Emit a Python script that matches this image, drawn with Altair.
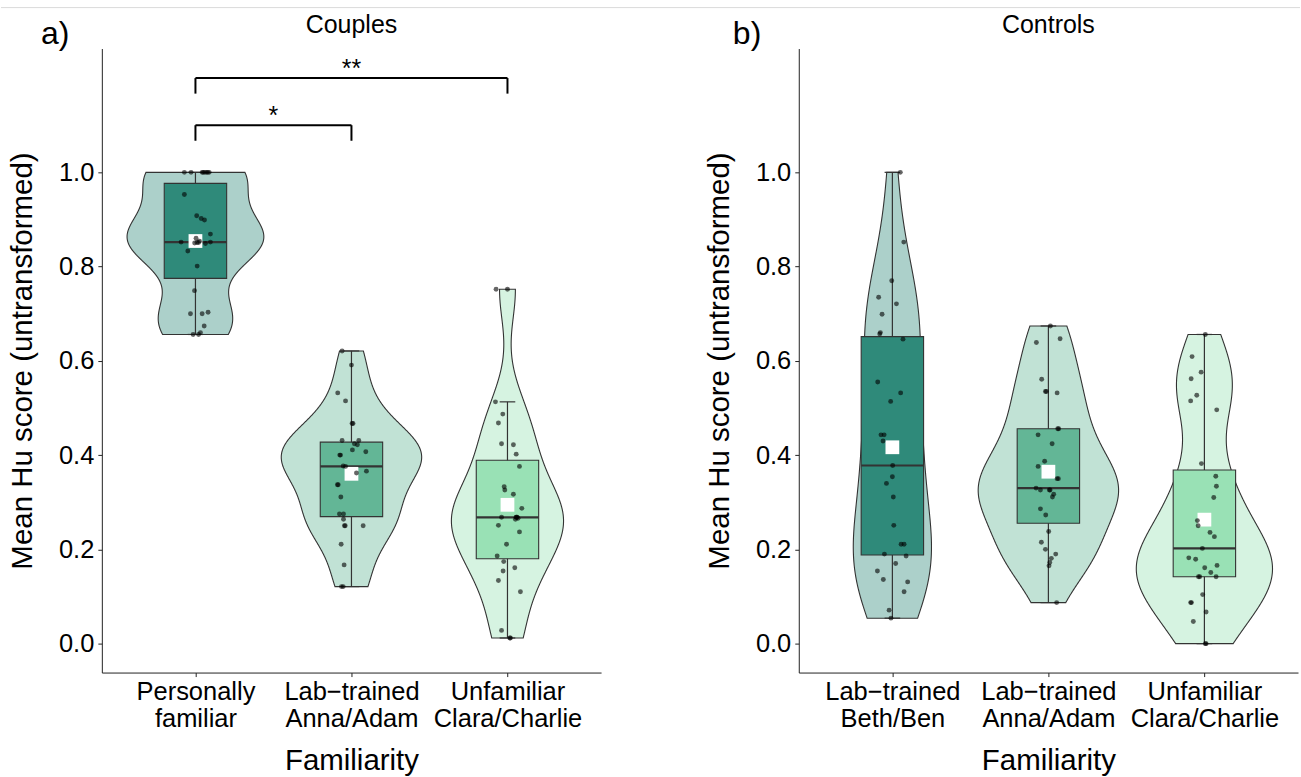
import json

import altair as alt
import numpy as np
import pandas as pd

FONT = "Liberation Sans"

# ---------------------------------------------------------------------------
# Mean Hu scores (untransformed), one value per participant, with the
# horizontal jitter offsets of the plotted dots (in category units).
# ---------------------------------------------------------------------------
couples_personal = [1.0, 1.0, 1.0, 1.0, 1.0, 1.0, 1.0, 1.0, 0.953, 0.908, 0.902,
                    0.899, 0.869, 0.860, 0.854, 0.852, 0.852, 0.851, 0.851, 0.850,
                    0.849, 0.833, 0.801, 0.749, 0.703, 0.700, 0.700, 0.674, 0.660,
                    0.656, 0.656]
couples_personal_jit = [-0.071, -0.028, 0.043, 0.071, 0.088, 0.060, 0.079, 0.050,
                        -0.071, 0.008, 0.037, 0.058, 0.096, 0.004, 0.026, -0.092,
                        0.096, 0.010, 0.020, -0.005, 0.064, -0.049, 0.011, -0.006,
                        0.081, -0.032, 0.043, 0.056, 0.032, -0.015, 0.020]

couples_anna = [0.621, 0.591, 0.532, 0.515, 0.467, 0.467, 0.431, 0.431, 0.424, 0.422,
                0.411, 0.407, 0.400, 0.400, 0.377, 0.376, 0.366, 0.362, 0.337, 0.337,
                0.311, 0.275, 0.275, 0.264, 0.250, 0.250, 0.250, 0.211, 0.167, 0.121,
                0.121]
couples_anna_jit = [-0.060, 0.000, -0.088, -0.038, 0.004, 0.010, -0.060, 0.047, 0.019,
                    0.038, 0.006, 0.092, -0.075, -0.070, -0.053, -0.038, 0.096, 0.032,
                    -0.090, -0.085, -0.068, -0.077, -0.051, -0.051, -0.045, 0.075,
                    -0.040, -0.066, -0.047, -0.064, -0.053]

couples_clara = [0.752, 0.752, 0.513, 0.487, 0.468, 0.424, 0.422, 0.402, 0.376, 0.333,
                 0.326, 0.317, 0.287, 0.268, 0.268, 0.268, 0.268, 0.266, 0.264, 0.251,
                 0.237, 0.211, 0.186, 0.174, 0.161, 0.154, 0.134, 0.110, 0.028, 0.012,
                 0.012]
couples_clara_jit = [-0.073, 0.000, -0.077, -0.030, -0.058, -0.038, 0.038, 0.056, 0.077,
                     -0.021, -0.017, 0.038, 0.092, -0.038, 0.062, 0.058, 0.055, 0.068,
                     0.051, -0.058, 0.077, -0.006, -0.066, -0.024, 0.047, -0.028,
                     -0.058, 0.083, -0.038, 0.019, 0.015]

controls_beth = [1.0, 0.852, 0.770, 0.735, 0.721, 0.699, 0.660, 0.657, 0.646, 0.555,
                 0.532, 0.514, 0.443, 0.443, 0.430, 0.378, 0.354, 0.340, 0.311, 0.251,
                 0.211, 0.211, 0.190, 0.186, 0.170, 0.154, 0.136, 0.131, 0.110, 0.071,
                 0.054]
controls_beth_jit = [0.051, 0.073, -0.004, -0.088, 0.026, -0.066, -0.077, -0.081, 0.068,
                     -0.094, 0.053, -0.011, -0.073, -0.053, -0.060, 0.002, 0.000,
                     -0.038, 0.006, 0.009, 0.056, 0.075, -0.051, 0.088, 0.021, -0.096,
                     -0.058, 0.098, 0.075, -0.021, -0.009]

controls_anna = [0.674, 0.647, 0.639, 0.561, 0.535, 0.535, 0.532, 0.456, 0.456, 0.443,
                 0.424, 0.387, 0.376, 0.350, 0.350, 0.330, 0.326, 0.326, 0.326, 0.317,
                 0.311, 0.286, 0.273, 0.238, 0.215, 0.200, 0.190, 0.181, 0.172, 0.165,
                 0.087]
controls_anna_jit = [0.013, 0.075, -0.077, -0.043, -0.019, -0.013, 0.056, 0.066, 0.060,
                     -0.066, 0.024, -0.024, -0.066, 0.056, 0.064, -0.079, -0.051, 0.006,
                     0.011, 0.034, 0.026, -0.051, -0.017, 0.002, -0.045, -0.019, 0.047,
                     0.019, 0.009, 0.004, 0.053]

controls_clara = [0.656, 0.609, 0.576, 0.562, 0.527, 0.515, 0.496, 0.382, 0.355, 0.334,
                  0.310, 0.261, 0.250, 0.236, 0.227, 0.202, 0.182, 0.179, 0.166, 0.161,
                  0.151, 0.142, 0.142, 0.142, 0.104, 0.087, 0.087, 0.067, 0.047, 0.0,
                  0.0]
controls_clara_jit = [0.006, -0.079, -0.021, -0.085, -0.049, -0.088, 0.079, -0.019,
                      0.073, 0.077, 0.060, -0.045, -0.040, 0.036, 0.064, -0.013, -0.100,
                      -0.056, 0.081, 0.002, 0.041, -0.038, -0.030, 0.075, -0.011,
                      -0.088, -0.083, 0.011, -0.071, 0.006, 0.011]

couples_labels = [["Personally", "familiar"], ["Lab−trained", "Anna/Adam"],
                  ["Unfamiliar", "Clara/Charlie"]]
controls_labels = [["Lab−trained", "Beth/Ben"], ["Lab−trained", "Anna/Adam"],
                   ["Unfamiliar", "Clara/Charlie"]]

# significance brackets (Couples): from category, to category, height, stars
bracket_from = [1, 1]
bracket_to = [2, 3]
bracket_height = [1.10, 1.20]
bracket_stars = ["*", "**"]
TIP = 0.033

fill_colors = ["#2f8a7a", "#63b696", "#99e1b5"]

Y_DOMAIN = [-0.0614, 1.2627]
X_DOMAIN = [0.4, 3.6]


# ---------------------------------------------------------------------------
# statistics
# ---------------------------------------------------------------------------
def bw_nrd0(v):
    sd = np.std(v, ddof=1)
    q75, q25 = np.percentile(v, [75, 25])
    lo = min(sd, (q75 - q25) / 1.34)
    if lo <= 0:
        lo = sd
    return 0.9 * lo * len(v) ** -0.2


def density(v, grid):
    bw = bw_nrd0(v)
    z = (grid[:, None] - v[None, :]) / bw
    return np.exp(-0.5 * z ** 2).sum(axis=1) / (len(v) * bw * np.sqrt(2 * np.pi))


def violin_frame(groups):
    parts = []
    for pos, vals in enumerate(groups, start=1):
        v = np.asarray(vals, dtype=float)
        grid = np.linspace(v.min(), v.max(), 512)
        parts.append(pd.DataFrame({"pos": pos, "y": grid, "d": density(v, grid)}))
    df = pd.concat(parts, ignore_index=True)
    half = 0.45 * df["d"] / df["d"].max()          # area-scaled, widest = 0.9
    df["xl"] = df["pos"] - half
    df["xr"] = df["pos"] + half
    return df


def box_frame(groups):
    rows = []
    for pos, vals in enumerate(groups, start=1):
        v = np.asarray(vals, dtype=float)
        q1, med, q3 = np.percentile(v, [25, 50, 75])
        iqr = q3 - q1
        lo = v[v >= q1 - 1.5 * iqr].min()
        hi = v[v <= q3 + 1.5 * iqr].max()
        rows.append(dict(pos=pos, q1=q1, med=med, q3=q3, lo=lo, hi=hi,
                         mean=v.mean(), bl=pos - 0.2, br=pos + 0.2))
    return pd.DataFrame(rows)


def cap_frame(box):
    rows = []
    for _, r in box.iterrows():
        for end in (r["lo"], r["hi"]):
            rows.append(dict(cl=r["pos"] - 0.05, cr=r["pos"] + 0.05, yc=end))
    return pd.DataFrame(rows)


def point_frame(groups, jitters):
    parts = []
    for pos, (vals, jit) in enumerate(zip(groups, jitters), start=1):
        parts.append(pd.DataFrame({"v": vals, "xj": pos + np.asarray(jit)}))
    return pd.concat(parts, ignore_index=True)


# ---------------------------------------------------------------------------
# one panel
# ---------------------------------------------------------------------------
def panel(groups, jitters, labels, letter, letter_x, heading, brackets=None):
    label_expr = (
        f"datum.value == 1 ? {json.dumps(labels[0], ensure_ascii=False)} : "
        f"datum.value == 2 ? {json.dumps(labels[1], ensure_ascii=False)} : "
        f"{json.dumps(labels[2], ensure_ascii=False)}"
    )
    x_axis = alt.Axis(values=[1, 2, 3], labelExpr=label_expr, title="Familiarity",
                      grid=False, tickSize=4, labelPadding=3, labelAngle=0,
                      labelFont=FONT, labelFontSize=25.5, labelColor="black",
                      labelLineHeight=27, labelOverlap=False, labelFlush=False,
                      titleFont=FONT, titleFontSize=29.5, titleFontWeight="normal",
                      titleColor="black", titlePadding=15,
                      domainColor="#222222", tickColor="#222222")
    y_axis = alt.Axis(values=[0, 0.2, 0.4, 0.6, 0.8, 1.0], format=".1f",
                      title="Mean Hu score (untransformed)", grid=False,
                      tickSize=4, labelPadding=4, labelFont=FONT,
                      labelFontSize=25.5, labelColor="black",
                      titleFont=FONT, titleFontSize=29.5, titleFontWeight="normal",
                      titleColor="black", titlePadding=21,
                      domainColor="#222222", tickColor="#222222")
    x_scale = alt.Scale(domain=X_DOMAIN, nice=False, zero=False)
    y_scale = alt.Scale(domain=Y_DOMAIN, nice=False, zero=False)

    def X(f):
        return alt.X(f, type="quantitative", scale=x_scale, axis=x_axis)

    def Y(f):
        return alt.Y(f, type="quantitative", scale=y_scale, axis=y_axis)

    fill = alt.Fill("pos:N", scale=alt.Scale(domain=[1, 2, 3], range=fill_colors),
                    legend=None)

    vdf = violin_frame(groups)
    bdf = box_frame(groups)
    cdf = cap_frame(bdf)
    pdf = point_frame(groups, jitters)

    violin = alt.Chart(vdf).mark_area(
        orient="horizontal", fillOpacity=0.4, stroke="#333333", strokeWidth=1.1
    ).encode(y=Y("y"), x=X("xl"), x2="xr", fill=fill)

    whisker = alt.Chart(bdf).mark_rule(color="#333333", strokeWidth=1.2).encode(
        x=X("pos"), y=Y("lo"), y2="hi")
    caps = alt.Chart(cdf).mark_rule(color="#333333", strokeWidth=1.2).encode(
        x=X("cl"), x2="cr", y=Y("yc"))
    box = alt.Chart(bdf).mark_rect(stroke="#333333", strokeWidth=1.1).encode(
        x=X("bl"), x2="br", y=Y("q1"), y2="q3", fill=fill)
    median = alt.Chart(bdf).mark_rule(color="#333333", strokeWidth=2.2).encode(
        x=X("bl"), x2="br", y=Y("med"))
    mean = alt.Chart(bdf).mark_square(size=190, color="white", opacity=1).encode(
        x=X("pos"), y=Y("mean"))
    dots = alt.Chart(pdf).mark_circle(size=24, color="black", opacity=0.6).encode(
        x=X("xj"), y=Y("v"))

    layers = [violin, whisker, caps, box, median, mean, dots]

    if brackets is not None:
        b_from, b_to, b_h, b_lab = brackets
        segs = []
        for a, b, h in zip(b_from, b_to, b_h):
            segs.append(dict(xa=a, xb=b, ya=h, yb=h))
            segs.append(dict(xa=a, xb=a, ya=h, yb=h - TIP))
            segs.append(dict(xa=b, xb=b, ya=h, yb=h - TIP))
        seg_df = pd.DataFrame(segs)
        star_df = pd.DataFrame({"xm": [(a + b) / 2 for a, b in zip(b_from, b_to)],
                                "h": b_h, "lab": b_lab})
        layers.append(alt.Chart(seg_df).mark_rule(color="black", strokeWidth=2).encode(
            x=X("xa"), x2="xb", y=Y("ya"), y2="yb"))
        layers.append(alt.Chart(star_df).mark_text(
            font=FONT, fontSize=25, baseline="alphabetic", dy=-1, color="black"
        ).encode(x=X("xm"), y=Y("h"), text="lab:N"))

    head = alt.Chart(pd.DataFrame({"t": [heading]})).mark_text(
        font=FONT, fontSize=25, baseline="alphabetic", color="black"
    ).encode(x=alt.datum(2), y=alt.value(-16), text="t:N")
    tag = alt.Chart(pd.DataFrame({"t": [letter]})).mark_text(
        font=FONT, fontSize=32, baseline="alphabetic", align="left", color="black"
    ).encode(x=alt.value(letter_x), y=alt.value(-5), text="t:N")
    layers += [head, tag]

    return alt.layer(*layers).properties(width=500, height=625)


couples = panel(
    [couples_personal, couples_anna, couples_clara],
    [couples_personal_jit, couples_anna_jit, couples_clara_jit],
    couples_labels, "a)", -61, "Couples",
    brackets=(bracket_from, bracket_to, bracket_height, bracket_stars),
)
# thin grey rule along the top edge of the figure
top_rule = alt.Chart(pd.DataFrame({"k": [0]})).mark_rule(
    color="#dadada", strokeWidth=1
).encode(x=alt.value(-101), x2=alt.value(1200), y=alt.value(-41))
couples = alt.layer(couples, top_rule)

controls = panel(
    [controls_beth, controls_anna, controls_clara],
    [controls_beth_jit, controls_anna_jit, controls_clara_jit],
    controls_labels, "b)", -66, "Controls",
)

chart = alt.hconcat(couples, controls, spacing=198, bounds="flush").properties(
    padding={"left": 0, "top": 6, "right": 0, "bottom": 0}
).configure_view(strokeWidth=0)

chart.save("out.html", embed_options={"renderer": "svg", "actions": False})
